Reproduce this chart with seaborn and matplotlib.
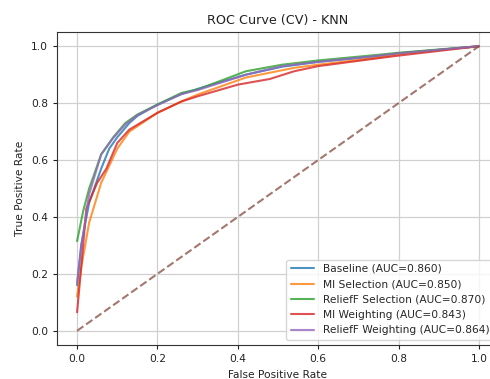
import numpy as np
import pandas as pd
import matplotlib
matplotlib.use("Agg")
import matplotlib.pyplot as plt
import seaborn as sns

# --------------------------------------------------
# DATA
# --------------------------------------------------
labels = ["Baseline", "MI Selection", "ReliefF Selection", "MI Weighting", "ReliefF Weighting"]
aucs = [0.860, 0.850, 0.870, 0.843, 0.864]

baseline_fpr = [0, 0.01, 0.03, 0.06, 0.08, 0.10, 0.13, 0.15, 0.20, 0.26, 0.30, 0.42, 0.51, 0.60, 0.75, 0.80, 1.0]
baseline_tpr = [0.16, 0.30, 0.45, 0.57, 0.64, 0.68, 0.73, 0.755, 0.795, 0.832, 0.85, 0.90, 0.928, 0.945, 0.965, 0.975, 1.0]

mi_sel_fpr = [0, 0.01, 0.03, 0.06, 0.08, 0.10, 0.13, 0.20, 0.26, 0.30, 0.42, 0.54, 0.60, 0.75, 0.80, 1.0]
mi_sel_tpr = [0.12, 0.22, 0.38, 0.52, 0.58, 0.64, 0.70, 0.766, 0.806, 0.83, 0.89, 0.924, 0.935, 0.96, 0.972, 1.0]

rf_sel_fpr = [0, 0.015, 0.03, 0.06, 0.09, 0.12, 0.15, 0.20, 0.26, 0.30, 0.42, 0.51, 0.60, 0.75, 0.80, 1.0]
rf_sel_tpr = [0.315, 0.42, 0.50, 0.62, 0.68, 0.73, 0.76, 0.795, 0.836, 0.848, 0.912, 0.935, 0.95, 0.97, 0.977, 1.0]

mi_w_fpr = [0, 0.01, 0.023, 0.05, 0.073, 0.10, 0.13, 0.20, 0.26, 0.30, 0.40, 0.48, 0.54, 0.60, 0.75, 0.80, 1.0]
mi_w_tpr = [0.065, 0.22, 0.43, 0.52, 0.57, 0.66, 0.707, 0.766, 0.806, 0.824, 0.865, 0.885, 0.912, 0.93, 0.958, 0.967, 1.0]

rf_w_fpr = [0, 0.011, 0.03, 0.06, 0.09, 0.12, 0.15, 0.20, 0.26, 0.30, 0.42, 0.51, 0.60, 0.75, 0.80, 1.0]
rf_w_tpr = [0.17, 0.30, 0.48, 0.62, 0.678, 0.725, 0.758, 0.793, 0.832, 0.846, 0.90, 0.93, 0.945, 0.967, 0.975, 1.0]

chance = [0, 1]

# --------------------------------------------------
# BUILD LONG TABLE
# --------------------------------------------------
curves = [(baseline_fpr, baseline_tpr), (mi_sel_fpr, mi_sel_tpr), (rf_sel_fpr, rf_sel_tpr),
          (mi_w_fpr, mi_w_tpr), (rf_w_fpr, rf_w_tpr)]
frames = []
for name, auc, (fpr, tpr) in zip(labels, aucs, curves):
    frames.append(pd.DataFrame({"fpr": fpr, "tpr": tpr,
                                "model": f"{name} (AUC={auc:.3f})"}))
df = pd.concat(frames, ignore_index=True)

# --------------------------------------------------
# PLOT
# --------------------------------------------------
sns.set_style("ticks")
plt.rcParams['font.family'] = ['DejaVu Sans']

fig = plt.figure(figsize=(4.9, 3.79), dpi=100)
# axes run a little past the right edge, as in the (cropped) reference
ax = fig.add_axes([57 / 490, 34 / 379, 442 / 490, 313 / 379])

sns.lineplot(data=df, x="fpr", y="tpr", hue="model", sort=False, estimator=None,
             palette=sns.color_palette("tab10", 5), linewidth=1.5, alpha=0.8, ax=ax)
ax.plot(chance, chance, linestyle="--", color="#8c564b", alpha=0.8, linewidth=1.5)

ax.set_xlim(-0.05, 1.05)
ax.set_ylim(-0.05, 1.05)
ax.set_xticks(np.arange(0, 1.01, 0.2))
ax.set_yticks(np.arange(0, 1.01, 0.2))
ax.grid(True, color="#d0d0d0", linewidth=0.9)
for s in ax.spines.values():
    s.set_color("#333333")
    s.set_linewidth(0.8)
ax.spines["right"].set_visible(False)
ax.tick_params(labelsize=7.7, colors="#222222", length=3)

ax.set_title("ROC Curve (CV) - KNN", fontsize=9.2, color="#222222")
ax.set_xlabel("False Positive Rate", fontsize=7.7, color="#222222")
ax.set_ylabel("True Positive Rate", fontsize=7.7, color="#222222")
ax.legend(loc="lower right", fontsize=7.7, title=None, handlelength=2.2)

fig.savefig("out.png", dpi=100)
